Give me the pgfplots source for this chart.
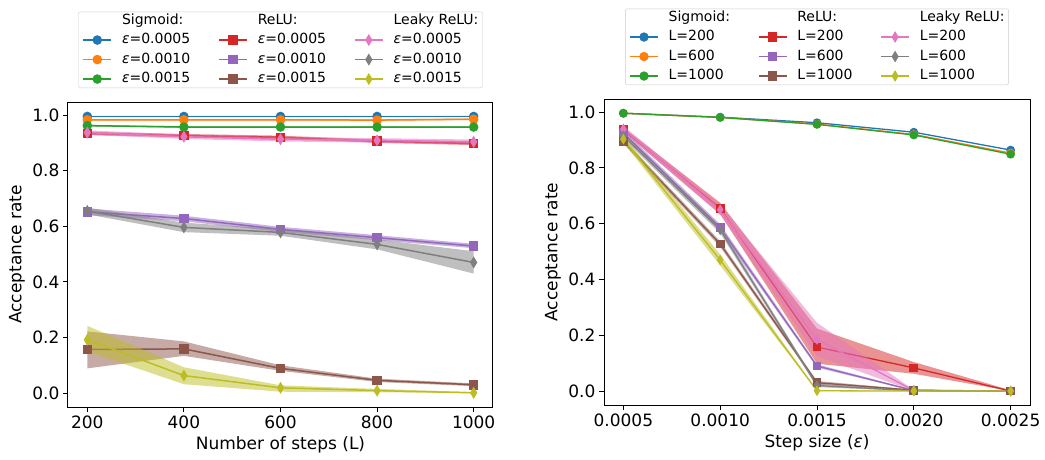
\documentclass[border=0pt]{standalone}
\usepackage{fontspec}
\setmainfont{DejaVu Sans}
\usepackage{pgfplots}
\pgfplotsset{compat=1.18}

% matplotlib tab10
\definecolor{c0}{HTML}{1F77B4}
\definecolor{c1}{HTML}{FF7F0E}
\definecolor{c2}{HTML}{2CA02C}
\definecolor{c3}{HTML}{D62728}
\definecolor{c4}{HTML}{9467BD}
\definecolor{c5}{HTML}{8C564B}
\definecolor{c6}{HTML}{E377C2}
\definecolor{c7}{HTML}{7F7F7F}
\definecolor{c8}{HTML}{BCBD22}

\pgfplotsset{
  panel/.style={
    scale only axis,
    ymin=-0.05, ymax=1.047,
    ytick={0,0.2,0.4,0.6,0.8,1.0},
    yticklabel style={/pgf/number format/.cd, fixed, fixed zerofill, precision=1},
    /pgf/number format/assume math mode=true,
    /pgf/number format/1000 sep={},
    tick align=outside,
    xtick pos=bottom, ytick pos=left,
    major tick length=5pt,
    tick style={line width=1pt, black},
    axis line style={line width=1pt},
    ticklabel style={font=\fontsize{17}{20}\selectfont},
    every axis y label/.style={at={([xshift=-51pt]axis description cs:0,0.5)}, anchor=center, rotate=90, font=\fontsize{17}{20}\selectfont},
    every axis x label/.style={at={([yshift=-38pt]axis description cs:0.5,0)}, anchor=center, font=\fontsize{17}{20}\selectfont},
    ylabel={Acceptance rate},
    legend columns=3,
    legend cell align=left,
    legend image code/.code={\draw[mark repeat=2,mark phase=2] plot coordinates {(0pt,0pt) (14pt,0pt) (28pt,0pt)};},
    legend style={at={(0.5,1)}, anchor=south, yshift=14pt,
      draw=black!20, rounded corners=2pt, fill=white,
      font=\fontsize{14}{16}\selectfont,
      inner xsep=4pt, inner ysep=2pt, row sep=6pt,
      nodes={inner sep=0pt, text height=10.5pt, text depth=3pt},
      /tikz/every odd column/.append style={column sep=10pt},
      /tikz/every even column/.append style={column sep=28pt}},
  },
  sig/.style={#1, line width=1.5pt, mark=*, mark size=4pt, forget plot},
  relu/.style={#1, line width=1.5pt, mark=square*, mark size=4pt, forget plot},
  leaky/.style={#1, line width=1.5pt, mark=diamond*, mark size=4.6pt, mark options={xscale=0.8}, forget plot},
  band/.style={draw=none, fill=#1, fill opacity=0.5, forget plot},
}

\begin{document}
\begin{tikzpicture}
\useasboundingbox (0pt,0pt) rectangle (1045pt,-459pt);

% ---------------- left: acceptance vs number of steps
\begin{axis}[panel,
  at={(68pt,-407pt)}, anchor=south west,
  width=425pt, height=305pt,
  xmin=160, xmax=1040,
  xtick={200,400,600,800,1000},
  xlabel={Number of steps (L)},
]
% Sigmoid
\addplot[band=c0] coordinates {(200,0.997)(400,0.997)(600,0.997)(800,0.997)(1000,0.997)(1000,0.993)(800,0.993)(600,0.993)(400,0.993)(200,0.993)} -- cycle;
\addplot[sig=c0] coordinates {(200,0.995)(400,0.995)(600,0.995)(800,0.995)(1000,0.995)};
\addplot[band=c1] coordinates {(200,0.986)(400,0.986)(600,0.986)(800,0.985)(1000,0.988)(1000,0.982)(800,0.979)(600,0.980)(400,0.980)(200,0.980)} -- cycle;
\addplot[sig=c1] coordinates {(200,0.983)(400,0.983)(600,0.983)(800,0.982)(1000,0.985)};
\addplot[band=c2] coordinates {(200,0.965)(400,0.960)(600,0.960)(800,0.960)(1000,0.960)(1000,0.954)(800,0.954)(600,0.954)(400,0.954)(200,0.959)} -- cycle;
\addplot[sig=c2] coordinates {(200,0.962)(400,0.957)(600,0.957)(800,0.957)(1000,0.957)};
% ReLU
\addplot[band=c3] coordinates {(200,0.940)(400,0.932)(600,0.926)(800,0.912)(1000,0.904)(1000,0.892)(800,0.900)(600,0.914)(400,0.920)(200,0.928)} -- cycle;
\addplot[relu=c3] coordinates {(200,0.934)(400,0.926)(600,0.920)(800,0.906)(1000,0.898)};
\addplot[band=c4] coordinates {(200,0.664)(400,0.638)(600,0.598)(800,0.568)(1000,0.537)(1000,0.521)(800,0.550)(600,0.580)(400,0.618)(200,0.640)} -- cycle;
\addplot[relu=c4] coordinates {(200,0.652)(400,0.628)(600,0.589)(800,0.559)(1000,0.529)};
\addplot[band=c5] coordinates {(200,0.222)(400,0.186)(600,0.100)(800,0.052)(1000,0.035)(1000,0.025)(800,0.040)(600,0.080)(400,0.134)(200,0.089)} -- cycle;
\addplot[relu=c5] coordinates {(200,0.157)(400,0.159)(600,0.089)(800,0.046)(1000,0.030)};
% Leaky ReLU
\addplot[band=c6] coordinates {(200,0.945)(400,0.930)(600,0.921)(800,0.917)(1000,0.912)(1000,0.896)(800,0.901)(600,0.905)(400,0.914)(200,0.929)} -- cycle;
\addplot[leaky=c6] coordinates {(200,0.937)(400,0.922)(600,0.913)(800,0.909)(1000,0.904)};
\addplot[band=c7] coordinates {(200,0.667)(400,0.613)(600,0.590)(800,0.553)(1000,0.510)(1000,0.430)(800,0.517)(600,0.566)(400,0.579)(200,0.643)} -- cycle;
\addplot[leaky=c7] coordinates {(200,0.655)(400,0.596)(600,0.578)(800,0.535)(1000,0.470)};
\addplot[band=c8] coordinates {(200,0.242)(400,0.093)(600,0.028)(800,0.015)(1000,0.004)(1000,0.000)(800,0.003)(600,0.005)(400,0.032)(200,0.150)} -- cycle;
\addplot[leaky=c8] coordinates {(200,0.192)(400,0.063)(600,0.019)(800,0.009)(1000,0.001)};

\addlegendimage{empty legend}\addlegendentry{Sigmoid:}
\addlegendimage{empty legend}\addlegendentry{ReLU:}
\addlegendimage{empty legend}\addlegendentry{Leaky ReLU:}
\addlegendimage{c0, line width=1.5pt, mark=*, mark size=4pt}\addlegendentry{\textit{ε}=0.0005}
\addlegendimage{c3, line width=1.5pt, mark=square*, mark size=4pt}\addlegendentry{\textit{ε}=0.0005}
\addlegendimage{c6, line width=1.5pt, mark=diamond*, mark size=4.6pt, mark options={xscale=0.8}}\addlegendentry{\textit{ε}=0.0005}
\addlegendimage{c1, line width=1.5pt, mark=*, mark size=4pt}\addlegendentry{\textit{ε}=0.0010}
\addlegendimage{c4, line width=1.5pt, mark=square*, mark size=4pt}\addlegendentry{\textit{ε}=0.0010}
\addlegendimage{c7, line width=1.5pt, mark=diamond*, mark size=4.6pt, mark options={xscale=0.8}}\addlegendentry{\textit{ε}=0.0010}
\addlegendimage{c2, line width=1.5pt, mark=*, mark size=4pt}\addlegendentry{\textit{ε}=0.0015}
\addlegendimage{c5, line width=1.5pt, mark=square*, mark size=4pt}\addlegendentry{\textit{ε}=0.0015}
\addlegendimage{c8, line width=1.5pt, mark=diamond*, mark size=4.6pt, mark options={xscale=0.8}}\addlegendentry{\textit{ε}=0.0015}
\end{axis}

% ---------------- right: acceptance vs step size
\begin{axis}[panel,
  at={(604pt,-405pt)}, anchor=south west,
  width=426pt, height=306pt,
  xmin=0.0004, xmax=0.0026,
  scaled x ticks=false,
  xtick={0.0005,0.0010,0.0015,0.0020,0.0025},
  xticklabels={0.0005,0.0010,0.0015,0.0020,0.0025},
  xlabel={Step size (\textit{ε})},
]
% Sigmoid
\addplot[sig=c0, line width=1.3pt, mark size=3.7pt] coordinates {(0.0005,0.996)(0.0010,0.982)(0.0015,0.962)(0.0020,0.928)(0.0025,0.864)};
\addplot[sig=c1, line width=1.3pt, mark size=3.7pt] coordinates {(0.0005,0.996)(0.0010,0.981)(0.0015,0.957)(0.0020,0.920)(0.0025,0.853)};
\addplot[sig=c2, line width=1.3pt, mark size=3.7pt] coordinates {(0.0005,0.996)(0.0010,0.981)(0.0015,0.956)(0.0020,0.918)(0.0025,0.849)};
% ReLU
\addplot[band=c3] coordinates {(0.0005,0.945)(0.0010,0.675)(0.0015,0.224)(0.0020,0.104)(0.0025,0.003)(0.0025,0.000)(0.0020,0.062)(0.0015,0.098)(0.0010,0.635)(0.0005,0.929)} -- cycle;
\addplot[relu=c3, line width=1.3pt, mark size=3.7pt] coordinates {(0.0005,0.937)(0.0010,0.655)(0.0015,0.158)(0.0020,0.083)(0.0025,0.000)};
\addplot[band=c4] coordinates {(0.0005,0.935)(0.0010,0.598)(0.0015,0.096)(0.0020,0.004)(0.0025,0.001)(0.0025,0.000)(0.0020,0.000)(0.0015,0.084)(0.0010,0.574)(0.0005,0.915)} -- cycle;
\addplot[relu=c4, line width=1.3pt, mark size=3.7pt] coordinates {(0.0005,0.925)(0.0010,0.586)(0.0015,0.090)(0.0020,0.002)(0.0025,0.000)};
\addplot[band=c5] coordinates {(0.0005,0.903)(0.0010,0.537)(0.0015,0.036)(0.0020,0.005)(0.0025,0.001)(0.0025,0.000)(0.0020,0.001)(0.0015,0.024)(0.0010,0.517)(0.0005,0.887)} -- cycle;
\addplot[relu=c5, line width=1.3pt, mark size=3.7pt] coordinates {(0.0005,0.895)(0.0010,0.527)(0.0015,0.030)(0.0020,0.003)(0.0025,0.000)};
% Leaky ReLU
\addplot[band=c6] coordinates {(0.0005,0.950)(0.0010,0.668)(0.0015,0.245)(0.0020,0.004)(0.0025,0.002)(0.0025,0.000)(0.0020,0.000)(0.0015,0.125)(0.0010,0.632)(0.0005,0.930)} -- cycle;
\addplot[leaky=c6, line width=1.3pt, mark size=4.2pt] coordinates {(0.0005,0.940)(0.0010,0.650)(0.0015,0.185)(0.0020,0.002)(0.0025,0.000)};
\addplot[band=c7] coordinates {(0.0005,0.925)(0.0010,0.590)(0.0015,0.026)(0.0020,0.002)(0.0025,0.001)(0.0025,0.000)(0.0020,0.000)(0.0015,0.014)(0.0010,0.566)(0.0005,0.905)} -- cycle;
\addplot[leaky=c7, line width=1.3pt, mark size=4.2pt] coordinates {(0.0005,0.915)(0.0010,0.578)(0.0015,0.020)(0.0020,0.001)(0.0025,0.000)};
\addplot[band=c8] coordinates {(0.0005,0.915)(0.0010,0.490)(0.0015,0.004)(0.0020,0.002)(0.0025,0.002)(0.0025,0.000)(0.0020,0.000)(0.0015,0.000)(0.0010,0.450)(0.0005,0.891)} -- cycle;
\addplot[leaky=c8, line width=1.3pt, mark size=4.2pt] coordinates {(0.0005,0.903)(0.0010,0.470)(0.0015,0.001)(0.0020,0.000)(0.0025,0.000)};

\addlegendimage{empty legend}\addlegendentry{Sigmoid:}
\addlegendimage{empty legend}\addlegendentry{ReLU:}
\addlegendimage{empty legend}\addlegendentry{Leaky ReLU:}
\addlegendimage{c0, line width=1.3pt, mark=*, mark size=4pt}\addlegendentry{L=200}
\addlegendimage{c3, line width=1.3pt, mark=square*, mark size=4pt}\addlegendentry{L=200}
\addlegendimage{c6, line width=1.3pt, mark=diamond*, mark size=4.6pt, mark options={xscale=0.8}}\addlegendentry{L=200}
\addlegendimage{c1, line width=1.3pt, mark=*, mark size=4pt}\addlegendentry{L=600}
\addlegendimage{c4, line width=1.3pt, mark=square*, mark size=4pt}\addlegendentry{L=600}
\addlegendimage{c7, line width=1.3pt, mark=diamond*, mark size=4.6pt, mark options={xscale=0.8}}\addlegendentry{L=600}
\addlegendimage{c2, line width=1.3pt, mark=*, mark size=4pt}\addlegendentry{L=1000}
\addlegendimage{c5, line width=1.3pt, mark=square*, mark size=4pt}\addlegendentry{L=1000}
\addlegendimage{c8, line width=1.3pt, mark=diamond*, mark size=4.6pt, mark options={xscale=0.8}}\addlegendentry{L=1000}
\end{axis}
\end{tikzpicture}
\end{document}
